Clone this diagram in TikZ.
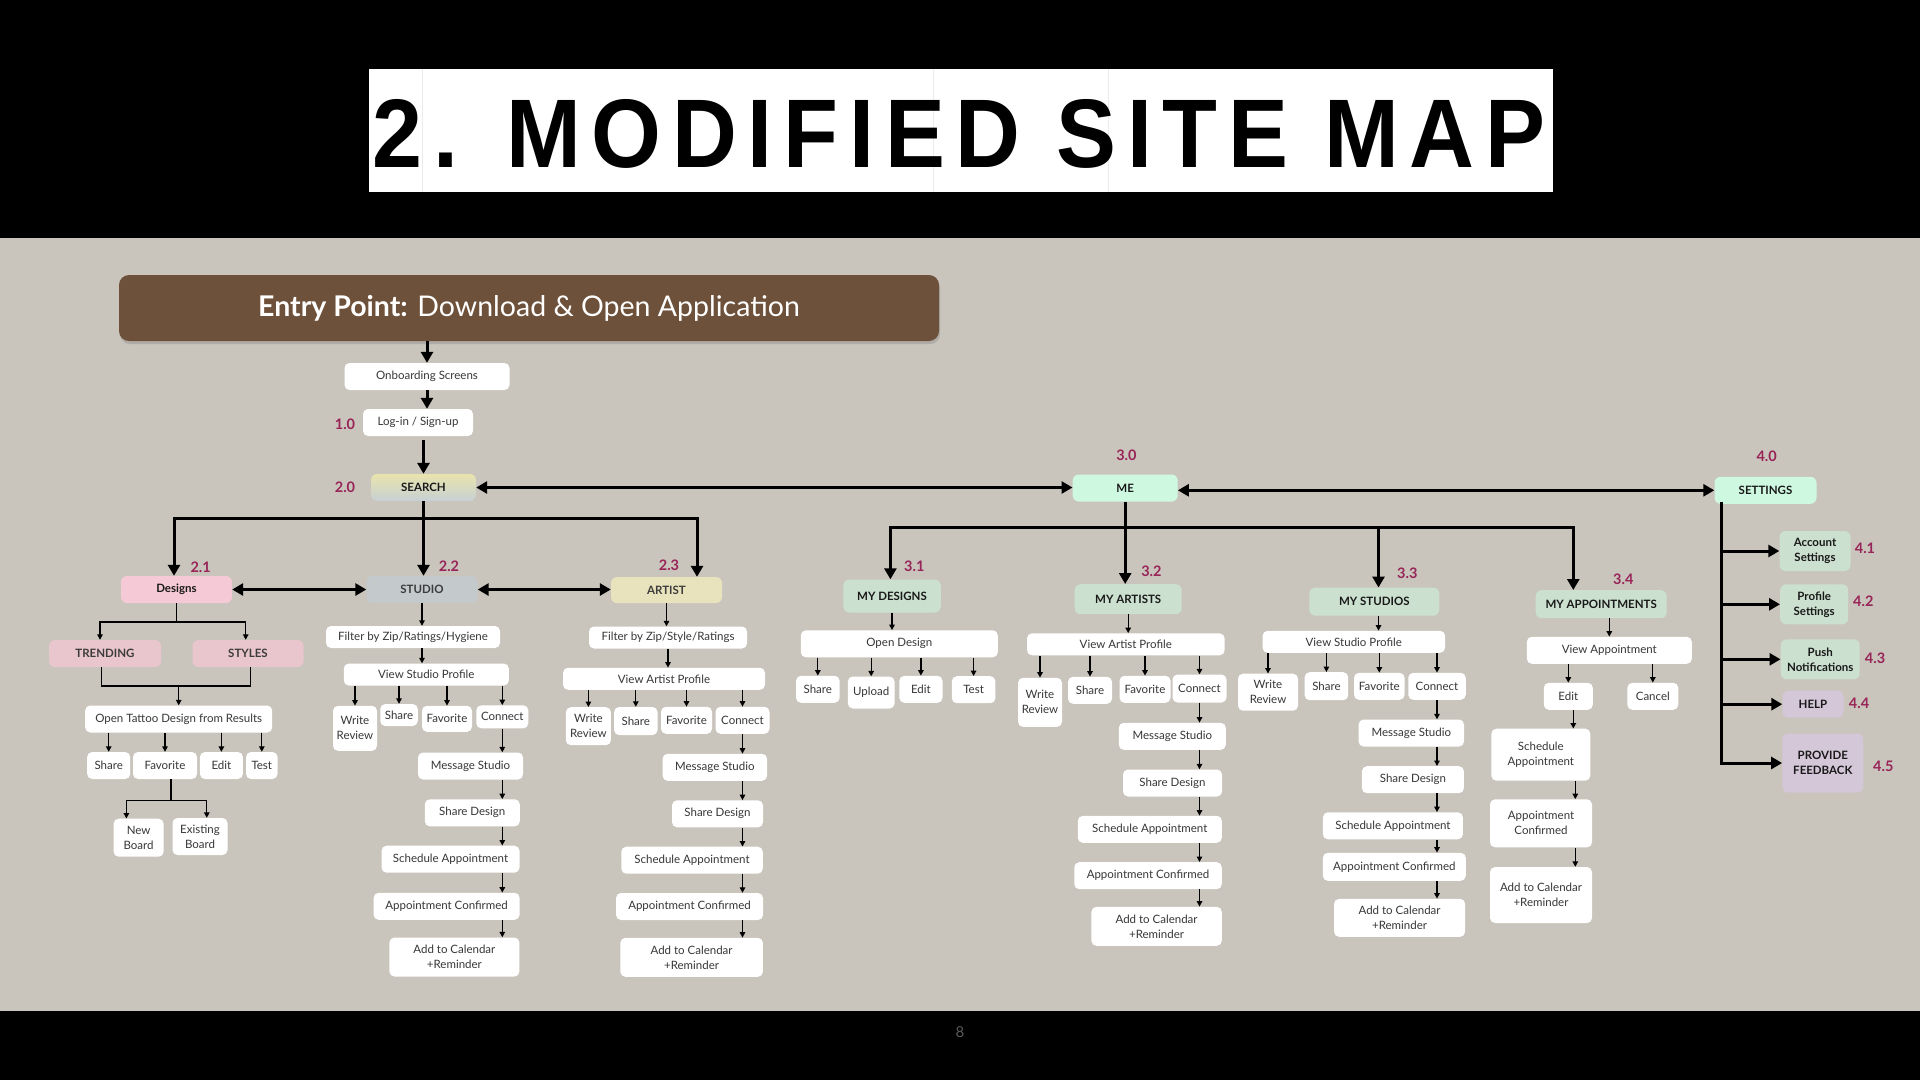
\documentclass[tikz,border=0pt]{standalone}
\usepackage{fontspec}
\setmainfont{Lato}
\newfontfamily\titlefont[LetterSpace=12]{Liberation Sans}
\usetikzlibrary{arrows.meta,shadows}
\definecolor{bgc}{RGB}{201,196,188}
\definecolor{brownc}{RGB}{110,81,58}
\definecolor{pinkc}{RGB}{246,201,214}
\definecolor{pinkm}{RGB}{233,197,205}
\definecolor{studioc}{RGB}{196,201,204}
\definecolor{artistc}{RGB}{233,227,189}
\definecolor{searcht}{RGB}{232,228,172}
\definecolor{searchb}{RGB}{199,208,213}
\definecolor{mintc}{RGB}{207,248,225}
\definecolor{greenc}{RGB}{204,224,207}
\definecolor{lavc}{RGB}{212,199,216}
\definecolor{numc}{RGB}{152,36,88}
\definecolor{txtc}{RGB}{55,55,55}
\definecolor{lblc}{RGB}{25,25,25}
\definecolor{midc}{RGB}{60,60,60}
\newcommand\mychain[3]{\draw[sarrow] (#1 |- #2.south) -- (#1 |- #3.north);}
\tikzset{
 wbox/.style={fill=white, rounded corners=5pt, text=txtc, font=\fontsize{11.5}{15}\selectfont, align=center, inner sep=0pt},
 cbox/.style={rounded corners=6pt, text=lblc, font=\bfseries\fontsize{11.5}{15}\selectfont, align=center, inner sep=0pt},
 wh/.style 2 args={minimum width=#1pt, minimum height=#2pt},
 num/.style={text=numc, font=\bfseries\fontsize{14.5}{16}\selectfont, inner sep=0pt},
 tarrow/.style={line width=3pt, -{Triangle[length=11pt,width=12pt]}},
 tdouble/.style={line width=3pt, {Triangle[length=11pt,width=12pt]}-{Triangle[length=11pt,width=12pt]}},
 tline/.style={line width=3pt, line cap=rect},
 sarrow/.style={line width=1.3pt, -{Triangle[length=5.5pt,width=5.5pt]}},
 sline/.style={line width=1.3pt, line cap=rect},
}
\begin{document}
\begin{tikzpicture}[x=1pt,y=-1pt]
\useasboundingbox (0,0) rectangle (1920,1080);
\fill[black] (0,0) rectangle (1920,1080);
\fill[bgc] (0,238) rectangle (1920,1011);
% title
\node[fill=white, minimum width=1184pt, minimum height=123pt, inner sep=0pt] (title) at (960.6,130.5) {};
\foreach \xx in {422,933,1108} \draw[black!8, line width=0.8pt] (\xx,69) -- (\xx,192);
\node[inner sep=0pt] (titletext) at (959,134) {\resizebox{1172pt}{68pt}{\titlefont\bfseries 2. MODIFIED SITE MAP}};
% entry
\node[fill=brownc, rounded corners=10pt, minimum width=820pt, minimum height=66pt, inner sep=0pt, text=white, font=\fontsize{28.5}{32}\selectfont, drop shadow={shadow xshift=1pt, shadow yshift=-3pt, opacity=0.35}] (entry) at (529,308) {\textbf{Entry Point:} Download \& Open Application};
\node[wbox, wh={165}{27}] (onb) at (427,376.5) {Onboarding Screens};
\node[wbox, wh={110}{27}] (login) at (418,422.5) {Log-in / Sign-up};
\node[cbox, wh={105}{27}, top color=searcht, bottom color=searchb] (search) at (423.5,487.5) {SEARCH};
\node[num] (n10) at (345,424) {1.0};
\node[num] (n20) at (345,487) {2.0};
% level 2
\node[cbox, wh={111}{27}, fill=pinkc] (designs) at (176.5,589.5) {Designs};
\node[cbox, wh={111}{27}, fill=studioc, text=midc] (studio) at (422,589.5) {STUDIO};
\node[cbox, wh={111}{26}, fill=artistc, text=midc] (artist) at (666.5,590) {ARTIST};
\node[num] (n21) at (200.7,567) {2.1};
\node[num] (n22) at (449,566) {2.2};
\node[num] (n23) at (669,565) {2.3};
% designs subtree
\node[cbox, wh={112}{27}, fill=pinkm, text=midc] (trending) at (105,653.5) {TRENDING};
\node[cbox, wh={111}{27}, fill=pinkm, text=midc] (styles) at (248,653.5) {STYLES};
\node[wbox, wh={187}{27}] (otd) at (178.7,719) {Open Tattoo Design from Results};
\node[wbox, wh={43}{27}] (dshare) at (108.7,765.5) {Share};
\node[wbox, wh={64}{27}] (dfav) at (165,765.5) {Favorite};
\node[wbox, wh={43}{27}] (dedit) at (221.4,765.5) {Edit};
\node[wbox, wh={31.5}{27}] (dtest) at (261.8,765.5) {Test};
\node[wbox, wh={50}{38}] (newb) at (138.6,837.7) {New\\Board};
\node[wbox, wh={55}{37}] (exb) at (200,836.5) {Existing\\Board};
% studio column
\node[wbox, wh={174}{22}] (sfilter) at (413,637) {Filter by Zip/Ratings/Hygiene};
\node[wbox, wh={165}{22}] (sview) at (426.3,674.5) {View Studio Profile};
\node[wbox, wh={44}{45}] (swr) at (355,728.3) {Write\\Review};
\node[wbox, wh={37.5}{22}] (sshare) at (399,715) {Share};
\node[wbox, wh={50}{26}] (sfav) at (447,718.8) {Favorite};
\node[wbox, wh={52}{23}] (scon) at (502.3,716.8) {Connect};
\node[wbox, wh={105}{27}] (smsg) at (470.5,766) {Message Studio};
\node[wbox, wh={95}{27}] (ssd) at (472.3,812.8) {Share Design};
\node[wbox, wh={138}{27}] (ssch) at (450.5,859.2) {Schedule Appointment};
\node[wbox, wh={146}{27}] (sconf) at (446.6,906.3) {Appointment Confirmed};
\node[wbox, wh={130}{39}] (scal) at (454.4,957) {Add to Calendar\\+Reminder};
% artist column
\node[wbox, wh={158}{22}] (afilter) at (668,637.5) {Filter by Zip/Style/Ratings};
\node[wbox, wh={202}{22}] (aview) at (664,678.8) {View Artist Profile};
\node[wbox, wh={45}{38}] (awr) at (588.4,726.2) {Write\\Review};
\node[wbox, wh={43.5}{28}] (ashare) at (635.8,721) {Share};
\node[wbox, wh={51}{27}] (afav) at (686.5,720.3) {Favorite};
\node[wbox, wh={54}{27}] (acon) at (742.5,720.3) {Connect};
\node[wbox, wh={104.5}{27}] (amsg) at (714.8,767.3) {Message Studio};
\node[wbox, wh={91}{27}] (asd) at (717.5,813.8) {Share Design};
\node[wbox, wh={141.5}{27}] (asch) at (692,860.2) {Schedule Appointment};
\node[wbox, wh={147}{27}] (aconf) at (689.5,906.5) {Appointment Confirmed};
\node[wbox, wh={142.5}{39}] (acal) at (691.6,957.3) {Add to Calendar\\+Reminder};
% ME
\node[cbox, wh={105}{27}, fill=mintc] (me) at (1125.2,488) {ME};
\node[num] (n30) at (1126.4,455.7) {3.0};
\node[cbox, wh={102}{27}, fill=mintc] (settings) at (1765.5,490.3) {SETTINGS};
\node[num] (n40) at (1766.7,456.7) {4.0};
\node[cbox, wh={97.5}{33}, fill=greenc] (mydes) at (892,596) {MY DESIGNS};
\node[num] (n31) at (914.3,566.7) {3.1};
\node[cbox, wh={107}{30}, fill=greenc] (myart) at (1128.2,599.2) {MY ARTISTS};
\node[num] (n32) at (1151.4,571) {3.2};
\node[cbox, wh={130}{28}, fill=greenc] (mystu) at (1374.3,601.7) {MY STUDIOS};
\node[num] (n33) at (1407.3,573.3) {3.3};
\node[cbox, wh={131}{28}, fill=greenc] (myapp) at (1601.2,604.2) {MY APPOINTMENTS};
\node[num] (n34) at (1623.3,579) {3.4};
% my designs
\node[wbox, wh={197}{27}] (mdopen) at (899.3,643.8) {Open Design};
\node[wbox, wh={43.6}{27}] (mdshare) at (817.8,689.3) {Share};
\node[wbox, wh={46.7}{32}] (mdup) at (871.2,692.5) {Upload};
\node[wbox, wh={43.2}{27}] (mdedit) at (920.9,689.3) {Edit};
\node[wbox, wh={43.6}{27}] (mdtest) at (973.6,689.7) {Test};
% my artists
\node[wbox, wh={197.6}{22}] (maview) at (1125.8,644.3) {View Artist Profile};
\node[wbox, wh={44}{49}] (mawr) at (1040,702.3) {Write\\Review};
\node[wbox, wh={44}{27}] (mashare) at (1090,690.3) {Share};
\node[wbox, wh={51}{27}] (mafav) at (1145,689.3) {Favorite};
\node[wbox, wh={54}{28}] (macon) at (1199.5,688.5) {Connect};
\node[wbox, wh={107}{27}] (mamsg) at (1172.3,736.3) {Message Studio};
\node[wbox, wh={99}{27}] (masd) at (1172.5,783) {Share Design};
\node[wbox, wh={144}{27}] (masch) at (1149.8,829.3) {Schedule Appointment};
\node[wbox, wh={147.5}{27}] (maconf) at (1148,875.7) {Appointment Confirmed};
\node[wbox, wh={130.4}{39}] (macal) at (1156.6,926.3) {Add to Calendar\\+Reminder};
% my studios
\node[wbox, wh={182.5}{22}] (mstview) at (1353.8,641.8) {View Studio Profile};
\node[wbox, wh={60}{37}] (mstwr) at (1268,692.2) {Write\\Review};
\node[wbox, wh={43.6}{28}] (mstshare) at (1326.4,686.2) {Share};
\node[wbox, wh={50.6}{27}] (mstfav) at (1379.3,686.3) {Favorite};
\node[wbox, wh={57.5}{27}] (mstcon) at (1437,686.3) {Connect};
\node[wbox, wh={105.4}{27}] (mstmsg) at (1411.3,733) {Message Studio};
\node[wbox, wh={102}{27}] (mstsd) at (1412.9,779.7) {Share Design};
\node[wbox, wh={140}{27}] (mstsch) at (1392.9,825.8) {Schedule Appointment};
\node[wbox, wh={143}{28}] (mstconf) at (1394.3,866.8) {Appointment Confirmed};
\node[wbox, wh={131}{38}] (mstcal) at (1399.6,917.8) {Add to Calendar\\+Reminder};
% my appointments
\node[wbox, wh={165}{27}] (mpview) at (1609.3,650.3) {View Appointment};
\node[wbox, wh={49}{27}] (mpedit) at (1568.3,696.3) {Edit};
\node[wbox, wh={51}{27}] (mpcancel) at (1652.8,696.3) {Cancel};
\node[wbox, wh={99}{52}] (mpsch) at (1540.8,754.7) {Schedule\\Appointment};
\node[wbox, wh={102}{48}] (mpconf) at (1541,823.3) {Appointment\\Confirmed};
\node[wbox, wh={102}{56}] (mpcal) at (1541,895) {Add to Calendar\\+Reminder};
% settings children
\node[cbox, wh={71}{40}, fill=greenc] (acc) at (1815,551) {Account\\Settings};
\node[cbox, wh={68}{40}, fill=greenc] (prof) at (1814.2,604.3) {Profile\\Settings};
\node[cbox, wh={79}{40}, fill=greenc] (push) at (1820.2,659.3) {Push\\Notifications};
\node[cbox, wh={61}{27}, fill=lavc] (help) at (1813,704.2) {HELP};
\node[cbox, wh={81}{59}, fill=lavc] (feed) at (1822.8,763) {PROVIDE\\FEEDBACK};
\node[num] (n41) at (1865,548.7) {4.1};
\node[num] (n42) at (1863.3,601.3) {4.2};
\node[num] (n43) at (1875,658.7) {4.3};
\node[num] (n44) at (1859,703.7) {4.4};
\node[num] (n45) at (1883.3,766.7) {4.5};
% page number
\node[text=black!65, font=\fontsize{15}{15}\selectfont] (pg) at (960,1031.7) {8};

% ---------- connectors ----------
\draw[tarrow] (onb.north |- entry.south) -- (onb.north);
\draw[tarrow] (onb.south) -- (onb.south |- login.north);
\draw[tarrow] ([yshift=-4pt]search.north |- login.south) -- (search.north);
\coordinate (sl) at (174,518);
\coordinate (sr) at (697,518);
\draw[tline] (sl) -- (sr);
\draw[tarrow] (search.south) -- (search.south |- studio.north);
\draw[tarrow] (sl) -- (sl |- designs.north);
\draw[tarrow] (sr) -- (sr |- artist.north);
\draw[tdouble] (search.east) -- (search.east -| me.west);
\draw[tdouble] (me.east |- settings.west) -- (settings.west);
\draw[tdouble] (designs.east) -- (designs.east -| studio.west);
\draw[tdouble] (studio.east) -- (studio.east -| artist.west);
% designs subtree
\coordinate (dl) at (100,622);
\coordinate (dr) at (245.7,622);
\draw[sline] (designs.south) -- (designs.south |- dl);
\draw[sline] (dl) -- (dr);
\draw[sarrow] (dl) -- (dl |- trending.north);
\draw[sarrow] (dr) -- (dr |- styles.north);
\coordinate (tl) at (101.4,686);
\coordinate (tr) at (250.7,686);
\draw[sline] (tl |- trending.south) -- (tl) -- (tr) -- (tr |- styles.south);
\draw[sarrow] (otd.north |- tl) -- (otd.north);
\foreach \n in {dshare,dfav,dedit,dtest} \draw[sarrow] (\n.north |- otd.south) -- (\n.north);
\coordinate (fj) at (171,800.7);
\coordinate (fl) at (126.4,800.7);
\coordinate (fr) at (206.8,800.7);
\draw[sline] (fj |- dfav.south) -- (fj);
\draw[sline] (fl) -- (fr);
\draw[sarrow] (fl) -- (fl |- newb.north);
\draw[sarrow] (fr) -- (fr |- exb.north);
% studio column
\draw[sarrow] (studio.south) -- (studio.south |- sfilter.north);
\draw[sarrow] (studio.south |- sfilter.south) -- (studio.south |- sview.north);
\foreach \n in {swr,sshare,sfav,scon} \draw[sarrow] (\n.north |- sview.south) -- (\n.north);
\mychain{scon.south}{scon}{smsg}
\mychain{scon.south}{smsg}{ssd}
\mychain{scon.south}{ssd}{ssch}
\mychain{scon.south}{ssch}{sconf}
\mychain{scon.south}{sconf}{scal}
% artist column
\draw[sarrow] (artist.south) -- (artist.south |- afilter.north);
\draw[sarrow] (afilter.south) -- (afilter.south |- aview.north);
\foreach \n in {awr,ashare,afav,acon} \draw[sarrow] (\n.north |- aview.south) -- (\n.north);
\mychain{acon.south}{acon}{amsg}
\mychain{acon.south}{amsg}{asd}
\mychain{acon.south}{asd}{asch}
\mychain{acon.south}{asch}{aconf}
\mychain{acon.south}{aconf}{acal}
% ME tree
\coordinate (ml) at (890.4,527.5);
\coordinate (mst) at (1378.5,527.5);
\coordinate (mr) at (1573.3,527.5);
\draw[tline] (ml) -- (mr);
\draw[tarrow] (me.south) -- (me.south |- myart.north);
\draw[tarrow] (ml) -- (ml |- mydes.north);
\draw[tarrow] (mst) -- (mst |- mystu.north);
\draw[tarrow] (mr) -- (mr |- myapp.north);
% my designs
\draw[sarrow] (mydes.south) -- (mydes.south |- mdopen.north);
\foreach \n in {mdshare,mdup,mdedit,mdtest} \draw[sarrow] (\n.north |- mdopen.south) -- (\n.north);
% my artists
\draw[sarrow] (myart.south) -- (myart.south |- maview.north);
\foreach \n in {mawr,mashare,mafav,macon} \draw[sarrow] (\n.north |- maview.south) -- (\n.north);
\mychain{macon.south}{macon}{mamsg}
\mychain{macon.south}{mamsg}{masd}
\mychain{macon.south}{masd}{masch}
\mychain{macon.south}{masch}{maconf}
\mychain{macon.south}{maconf}{macal}
% my studios
\draw[sarrow] (mst |- mystu.south) -- (mst |- mstview.north);
\foreach \n in {mstwr,mstshare,mstfav,mstcon} \draw[sarrow] (\n.north |- mstview.south) -- (\n.north);
\mychain{mstcon.south}{mstcon}{mstmsg}
\mychain{mstcon.south}{mstmsg}{mstsd}
\mychain{mstcon.south}{mstsd}{mstsch}
\mychain{mstcon.south}{mstsch}{mstconf}
\mychain{mstcon.south}{mstconf}{mstcal}
% my appointments
\draw[sarrow] (mpview.north |- myapp.south) -- (mpview.north);
\foreach \n in {mpedit,mpcancel} \draw[sarrow] (\n.north |- mpview.south) -- (\n.north);
\draw[sarrow] ([xshift=5pt]mpedit.south) -- ([xshift=5pt]mpedit.south |- mpsch.north);
\draw[sarrow] ([xshift=7pt]mpedit.south |- mpsch.south) -- ([xshift=7pt]mpedit.south |- mpconf.north);
\draw[sarrow] ([xshift=7pt]mpedit.south |- mpconf.south) -- ([xshift=7pt]mpedit.south |- mpcal.north);
% settings
\coordinate (sttop) at (1721.7,503.8);
\coordinate (stbot) at (1721.7,763);
\draw[tline] (sttop) -- (stbot);
\foreach \n in {acc,prof,push,help,feed} \draw[tarrow] (sttop |- \n.west) -- (\n.west);
\end{tikzpicture}
\end{document}
